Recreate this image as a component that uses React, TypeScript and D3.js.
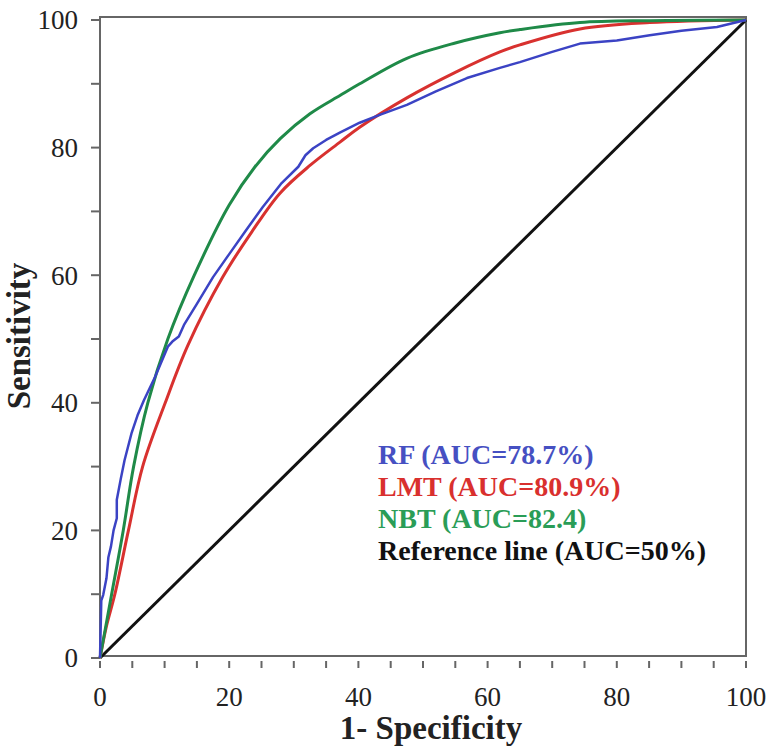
import React from 'react';
import * as d3 from 'd3';

// ROC curves, [1-specificity %, sensitivity %]
const rfPoints: [number, number][] = [
  [0, 0], [0.2, 9], [0.5, 9.9], [1.0, 12.5], [1.3, 15.8], [1.7, 17.5], [2.1, 20], [2.6, 21.9],
  [2.6, 24.8], [3.2, 28], [3.8, 31], [4.9, 35.3], [5.8, 38], [6.8, 40.4], [8.5, 44], [10.5, 48.8],
  [11.2, 49.6], [12.2, 50.4], [13, 52.2], [15, 55.5], [17.5, 59.7], [20, 63.3], [22.5, 66.9],
  [25.2, 70.7], [28, 74.3], [30.7, 77], [31.8, 78.8], [33, 79.9], [35, 81.2], [37.2, 82.4],
  [40.2, 83.9], [43.5, 85.2], [47.5, 86.7], [52, 88.8], [56.8, 90.9], [61.9, 92.5], [65, 93.4],
  [70, 95], [74.3, 96.3], [80, 96.8], [85.1, 97.6], [90, 98.3], [95.5, 98.9], [100, 100]
];

const lmtPoints: [number, number][] = [
  [0, 0], [1, 5], [2.3, 10], [4.4, 20], [6.6, 30], [10.1, 40], [13.6, 49], [19, 59.7],
  [23.5, 66.8], [27.9, 72.9], [32.5, 77.2], [37.2, 80.9], [40.2, 83.2], [47.5, 87.8],
  [55, 91.8], [61.9, 95], [65, 96.1], [74.3, 98.6], [85.1, 99.6], [100, 100]
];

const nbtPoints: [number, number][] = [
  [0, 0], [1.8, 10], [3.6, 20], [5.2, 30], [7.4, 40], [10.5, 50], [14.6, 60], [20, 71],
  [24, 77], [27.9, 81.4], [32.5, 85.3], [37.2, 88.2], [40.2, 90], [47.5, 94], [55, 96.4],
  [61.9, 98], [65, 98.5], [74.3, 99.6], [85.1, 99.9], [100, 100]
];

const refPoints: [number, number][] = [[0, 0], [100, 100]];

const legendLabels = ['RF (AUC=78.7%)', 'LMT (AUC=80.9%)', 'NBT (AUC=82.4)', 'Reference line (AUC=50%)'];
const legendColors = ['#4650c2', '#d9302e', '#2a9d57', '#111111'];

const yTicks = d3.range(0, 101, 10);
const xTicks = d3.range(0, 101, 5);

export default function App() {
  const width = 769;
  const height = 748;

  const x = d3.scaleLinear().domain([0, 100]).range([100, 746]);
  const y = d3.scaleLinear().domain([0, 100]).range([658, 20]);

  const jagged = d3.line<[number, number]>()
    .x(d => x(d[0]))
    .y(d => y(d[1]))
    .curve(d3.curveLinear);

  const smooth = d3.line<[number, number]>()
    .x(d => x(d[0]))
    .y(d => y(d[1]))
    .curve(d3.curveCatmullRom.alpha(0.5));

  const axisColor = '#666';
  const serif = '"Liberation Serif", "Times New Roman", serif';

  return (
    <svg width={width} height={height} style={{ position: 'absolute', left: 0, top: 0, background: '#fff' }}>
      {/* frame */}
      <rect x={x(0)} y={17} width={x(100) - x(0)} height={656 - 17}
        fill="none" stroke={axisColor} strokeWidth={2} />

      {/* y ticks */}
      {yTicks.map(t => (
        <g key={'y' + t}>
          <line x1={91} x2={x(0)} y1={y(t)} y2={y(t)} stroke={axisColor} strokeWidth={2} />
          {t % 20 === 0 && (
            <text x={78} y={y(t)} dy="0.35em" textAnchor="end" fontFamily={serif} fontSize={27} fill="#222">{t}</text>
          )}
        </g>
      ))}

      {/* x ticks */}
      {xTicks.map(t => (
        <g key={'x' + t}>
          <line x1={x(t)} x2={x(t)} y1={661} y2={668} stroke={axisColor} strokeWidth={2} />
          {t % 20 === 0 && (
            <text x={x(t)} y={706} textAnchor="middle" fontFamily={serif} fontSize={27} fill="#222">{t}</text>
          )}
        </g>
      ))}

      {/* curves */}
      <path d={smooth(refPoints) || ''} fill="none" stroke="#111" strokeWidth={3} />
      <path d={smooth(lmtPoints) || ''} fill="none" stroke="#d8312f" strokeWidth={3} />
      <path d={smooth(nbtPoints) || ''} fill="none" stroke="#1f8a48" strokeWidth={3} />
      <path d={jagged(rfPoints) || ''} fill="none" stroke="#3b43c4" strokeWidth={2.5} strokeLinejoin="round" />

      {/* legend */}
      {legendLabels.map((l, i) => (
        <text key={l} x={378} y={464 + i * 32} fontFamily={serif} fontWeight="bold" fontSize={28} fill={legendColors[i]}>{l}</text>
      ))}

      {/* axis titles */}
      <text x={x(50) + 8} y={739} textAnchor="middle" fontFamily={serif} fontWeight="bold" fontSize={33} fill="#222">1- Specificity</text>
      <text transform={`translate(30, ${336}) rotate(-90)`} textAnchor="middle" fontFamily={serif} fontWeight="bold" fontSize={33} fill="#222">Sensitivity</text>
    </svg>
  );
}
